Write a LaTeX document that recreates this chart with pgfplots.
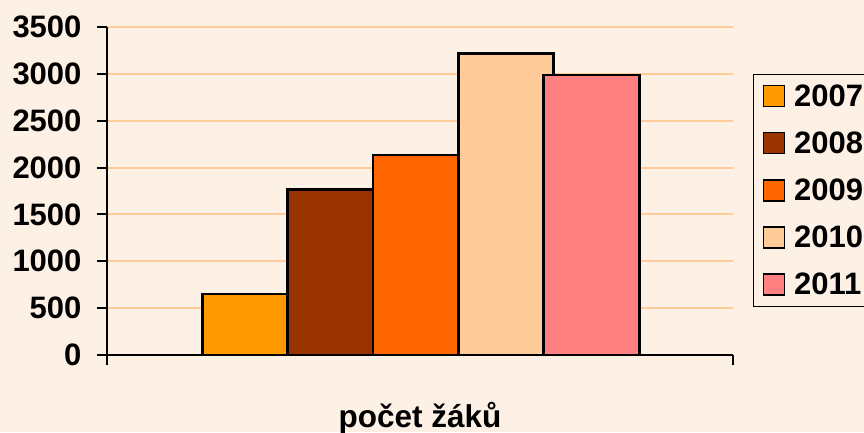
\documentclass[border=0pt]{standalone}
\usepackage{pgfplots}
\pgfplotsset{compat=1.18}
\usepackage{fontspec}
\setmainfont{Liberation Sans}
\definecolor{bg}{RGB}{253,240,228}
\definecolor{gridc}{RGB}{255,204,153}
\definecolor{cA}{RGB}{255,153,0}
\definecolor{cB}{RGB}{153,51,0}
\definecolor{cC}{RGB}{255,102,0}
\definecolor{cD}{RGB}{255,204,153}
\definecolor{cE}{RGB}{255,128,128}
\begin{document}
\begin{tikzpicture}
\path[use as bounding box, fill=bg] (-107pt,355pt) rectangle (757pt,-77pt);
\begin{axis}[
  at={(0pt,0pt)}, anchor=south west,
  scale only axis, width=626pt, height=328pt,
  xmin=-0.5, xmax=0.5, ymin=0, ymax=3500,
  ytick={0,500,...,3500},
  xtick={-0.5,0.5}, xticklabels={,},
  axis x line*=bottom, axis y line*=left,
  tick align=outside, major tick length=10pt,
  ymajorgrids, grid style={color=gridc, line width=2pt},
  axis line style={line width=2pt, black},
  tick style={line width=2pt, black},
  /pgf/number format/assume math mode=true,
  /pgf/number format/1000 sep={},
  ticklabel style={font=\fontsize{31}{37}\selectfont\bfseries},
  yticklabel style={xshift=-12pt},
  xlabel={počet žáků},
  xlabel style={at={(axis description cs:0.5,0)}, anchor=base, yshift=-72pt, font=\fontsize{31.5}{37}\selectfont\bfseries},
  legend style={at={(axis description cs:1.032,0.857)}, anchor=north west,
    draw=black, line width=1.2pt, fill=bg,
    font=\fontsize{31}{37}\selectfont\bfseries,
    row sep=20pt, column sep=7pt, inner xsep=9pt, inner ysep=8pt},
  legend cell align=left,
  mybar/.style={ybar, draw=black, line width=2.4pt,
    legend image code/.code={\draw[##1, line width=1.4pt] (0pt,-10.5pt) rectangle (21pt,10.5pt);}},
]
\addplot[mybar, fill=cA, bar width=85pt, bar shift=-175.2pt] coordinates {(0,648)};
\addplot[mybar, fill=cB, bar width=85.7pt, bar shift=-89.8pt] coordinates {(0,1768)};
\addplot[mybar, fill=cC, bar width=85.5pt, bar shift=-4.2pt] coordinates {(0,2131)};
\addplot[mybar, fill=cD, bar width=95pt, bar shift=85.8pt] coordinates {(0,3219)};
\addplot[mybar, fill=cE, bar width=96pt, bar shift=171.3pt] coordinates {(0,2988)};
\legend{2007,2008,2009,2010,2011}
\end{axis}
\end{tikzpicture}
\end{document}
